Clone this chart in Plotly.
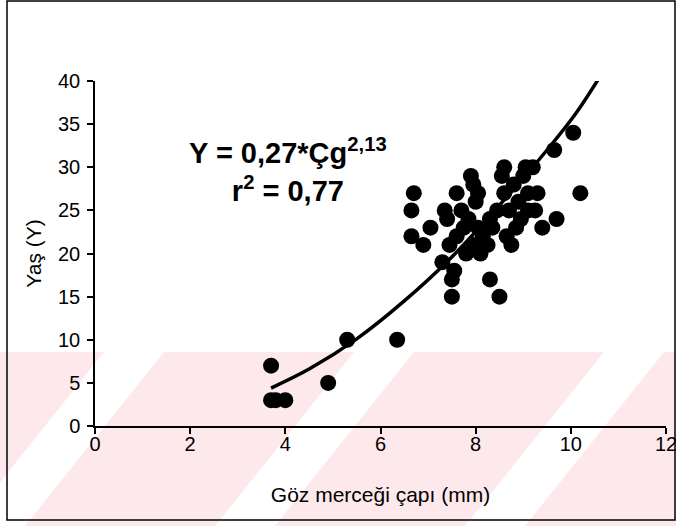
import plotly.graph_objects as go

# Data
goz_capi = [3.7, 3.7, 3.8, 4.0, 4.9, 5.3, 6.35,
            6.65, 6.65, 6.7, 6.9, 7.05, 7.3, 7.35, 7.4, 7.45, 7.5, 7.5, 7.55, 7.6, 7.6,
            7.7, 7.75, 7.8, 7.85, 7.9, 7.95, 7.95, 8.0, 8.05, 8.05, 8.1, 8.15, 8.25, 8.3,
            8.3, 8.35, 8.45, 8.5, 8.55, 8.6, 8.6, 8.65, 8.7, 8.75, 8.8, 8.85, 8.9, 8.95,
            9.0, 9.05, 9.1, 9.1, 9.2, 9.25, 9.3, 9.4, 9.65, 9.7, 10.05, 10.2]
yas = [7, 3, 3, 3, 5, 10, 10,
       22, 25, 27, 21, 23, 19, 25, 24, 21, 15, 17, 18, 22, 27,
       25, 23, 20, 24, 29, 28, 21, 26, 27, 23, 20, 22, 21, 17,
       24, 23, 25, 15, 29, 30, 27, 22, 25, 21, 28, 23, 26, 24,
       29, 30, 25, 27, 30, 25, 27, 23, 32, 24, 34, 27]

# Fitted power curve (Y = 0,27*Cg^2,13)
egri_x = [3.7, 4.5, 5.5, 6.5, 7.5, 8.5, 9.5, 10.1, 10.6]
egri_y = [4.4, 6.6, 10.1, 14.5, 19.6, 25.6, 32.0, 36.2, 40.4]

x_ticks = [0, 2, 4, 6, 8, 10, 12]
y_ticks = [0, 5, 10, 15, 20, 25, 30, 35, 40]

FONT = "Liberation Sans, Arial, sans-serif"
W, H = 676, 526
L, R, T, B = 95, 10, 81, 100
pw, ph = W - L - R, H - T - B


def px(xp):
    return (xp - L) / pw


def py(yp):
    return (H - B - yp) / ph


fig = go.Figure()

fig.add_trace(go.Scatter(
    x=goz_capi, y=yas, mode="markers",
    marker=dict(color="black", size=16, line=dict(width=0)),
    showlegend=False, hoverinfo="x+y"))

fig.add_trace(go.Scatter(
    x=egri_x, y=egri_y, mode="lines",
    line=dict(color="black", width=3.5, shape="spline"),
    showlegend=False, hoverinfo="skip"))

shapes = []
# pink watermark band
shapes.append(dict(type="rect", xref="paper", yref="paper", layer="below",
                   x0=px(0), x1=px(W), y0=py(352), y1=py(H),
                   fillcolor="#fde8ec", line=dict(width=0)))
# white diagonal stripes of the watermark
for bx in [-35, 215, 465, 715]:
    xs = [bx, bx + 60, bx + 60 + 139, bx + 139]
    ys = [H, H, 352, 352]
    path = "M {} {} L {} {} L {} {} L {} {} Z".format(
        px(xs[0]), py(ys[0]), px(xs[1]), py(ys[1]),
        px(xs[2]), py(ys[2]), px(xs[3]), py(ys[3]))
    shapes.append(dict(type="path", xref="paper", yref="paper", layer="below",
                       path=path, fillcolor="white", line=dict(width=0)))
# outer frame
shapes.append(dict(type="rect", xref="paper", yref="paper", layer="above",
                   x0=px(7), x1=px(675), y0=py(1), y1=py(520),
                   line=dict(color="black", width=1.5), fillcolor="rgba(0,0,0,0)"))

fig.update_layout(
    width=W, height=H,
    margin=dict(l=L, r=R, t=T, b=B, autoexpand=False),
    paper_bgcolor="white", plot_bgcolor="rgba(0,0,0,0)",
    font=dict(family=FONT, color="black", size=20),
    shapes=shapes,
    xaxis=dict(range=[0, 12], tickvals=x_ticks, showgrid=False, zeroline=False,
               showline=True, linecolor="black", linewidth=1.5,
               ticks="outside", ticklen=6, tickwidth=1.5, tickcolor="black",
               tickfont=dict(size=20), ticklabeloverflow="allow", automargin=False,
               ticklabelstandoff=-7,
               title=dict(text="Göz merceği çapı (mm)", font=dict(size=21), standoff=34)),
    yaxis=dict(range=[0, 40], tickvals=y_ticks, showgrid=False, zeroline=False,
               showline=True, linecolor="black", linewidth=1.5,
               ticks="outside", ticklen=6, tickwidth=1.5, tickcolor="black",
               tickfont=dict(size=20), ticklabelstandoff=3, ticklabeloverflow="allow",
               automargin=False,
               title=dict(text="Yaş (Y)", font=dict(size=21), standoff=11)),
    annotations=[
        dict(x=px(288), y=py(170), xref="paper", yref="paper", showarrow=False,
             align="center", yanchor="middle",
             text="<b>Y = 0,27*Çg<sup>2,13</sup></b><br><b>r<sup>2</sup> = 0,77</b>",
             font=dict(size=29, family=FONT)),
    ],
)

fig.write_html("out.html")
